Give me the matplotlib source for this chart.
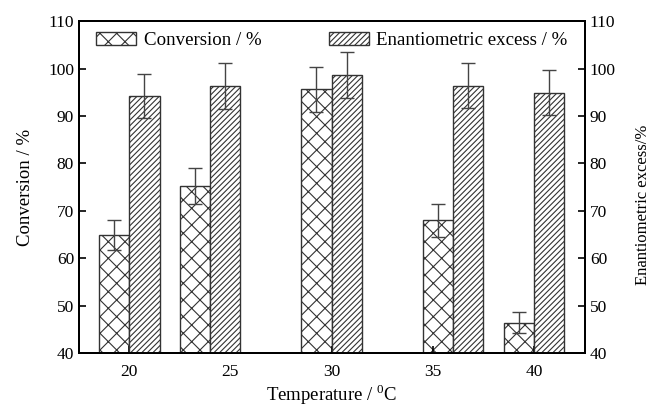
import matplotlib
matplotlib.use("Agg")
import matplotlib.pyplot as plt
import numpy as np

plt.rcParams['font.family'] = ['Liberation Serif', 'DejaVu Serif']
plt.rcParams['mathtext.fontset'] = 'custom'
plt.rcParams['mathtext.rm'] = 'Liberation Serif'
plt.rcParams['hatch.linewidth'] = 0.8

# Reaction temperature (°C)
temperatures = [20, 25, 30, 35, 40]
# Conversion (%) and its error
conversion = [64.9, 75.3, 95.6, 68.0, 46.4]
conversion_err = [3.2, 3.8, 4.8, 3.5, 2.2]
# Enantiometric excess (%) and its error
ee = [94.2, 96.3, 98.6, 96.4, 94.9]
ee_err = [4.6, 4.8, 4.9, 4.8, 4.7]

# bar groups sit slightly inward of the 25 and 35 ticks
group_shift = [0, -1, 0, 1, 0]
centers = np.array(temperatures, dtype=float) + np.array(group_shift)
width = 1.5
edge = '#333333'

fig = plt.figure(figsize=(6.5, 4.05), dpi=100)
ax = fig.add_axes([0.1215, 0.128, 0.7785, 0.820])

b1 = ax.bar(centers - width / 2, conversion, width, bottom=0, color='white',
            edgecolor=edge, hatch='xx', linewidth=1.0, label='Conversion / %')
ax.errorbar(centers - width / 2, conversion, yerr=conversion_err, fmt='none',
            ecolor='#444444', elinewidth=1.0, capsize=5, capthick=1.0)

ax2 = ax.twinx()
b2 = ax2.bar(centers + width / 2, ee, width, color='white',
             edgecolor=edge, hatch='//////', linewidth=1.0,
             label='Enantiometric excess / %')
ax2.errorbar(centers + width / 2, ee, yerr=ee_err, fmt='none',
             ecolor='#444444', elinewidth=1.0, capsize=5, capthick=1.0)

for a in (ax, ax2):
    a.set_ylim(40, 110)
    a.set_yticks(np.arange(40, 111, 10))
    a.tick_params(direction='in', labelsize=12.5, length=5, width=1.2)
    for s in a.spines.values():
        s.set_linewidth(1.4)

ax.set_xlim(17.52, 42.52)
ax.set_xticks(temperatures)
ax.tick_params(axis='x', pad=8)

ax.set_ylabel('Conversion / %', fontsize=13.5, labelpad=10)
ax2.set_ylabel('Enantiometric excess/%', fontsize=12)
ax2.yaxis.set_label_coords(1.098, 0.446)
ax.set_xlabel('Temperature / $^{0}$C', fontsize=13.5, labelpad=1.5)

ax.legend([b1, b2], ['Conversion / %', 'Enantiometric excess / %'],
          loc='upper left', bbox_to_anchor=(0.012, 1.0), ncol=2, frameon=False,
          fontsize=13.6, handlelength=2.1, handleheight=0.65, handletextpad=0.4,
          columnspacing=3.6, borderaxespad=0.2)

fig.savefig('out.png', dpi=100)
